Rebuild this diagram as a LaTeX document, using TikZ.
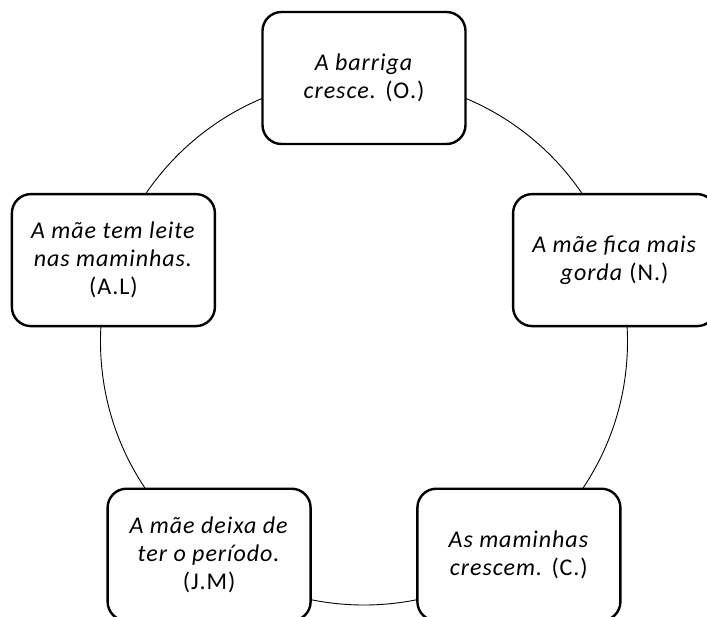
\documentclass[tikz,border=0pt]{standalone}
\usepackage{fontspec}
\setmainfont[LetterSpace=4]{Carlito}
\begin{document}
\begin{tikzpicture}[x=1pt,y=-1pt,
  stagebox/.style={draw=black, line width=2.4pt, fill=white, rounded corners=19pt,
    minimum width=203pt, minimum height=132pt, align=center, inner sep=2pt,
    font=\fontsize{24}{28}\selectfont},
  ring/.style={draw=black, line width=0.9pt}]
\useasboundingbox (0,0) rectangle (707,616);
\coordinate (c) at (364,341.5);
\draw[ring] (c) circle[radius=263.5];
\node[stagebox] (o) at (364,78) {\textit{A barriga}\\\textit{cresce.} (O.)};
\node[stagebox] (n) at (614.6,260.1) {\textit{A mãe fica mais}\\\textit{gorda} (N.)};
\node[stagebox] (cc) at (518.9,554.7) {\textit{As maminhas}\\\textit{crescem.} (C.)};
\node[stagebox] (jm) at (209.1,554.7) {\textit{A mãe deixa de}\\\textit{ter o período.}\\(J.M)};
\node[stagebox] (al) at (113.4,260.1) {\textit{A mãe tem leite}\\\textit{nas maminhas.}\\(A.L)};
\end{tikzpicture}
\end{document}
